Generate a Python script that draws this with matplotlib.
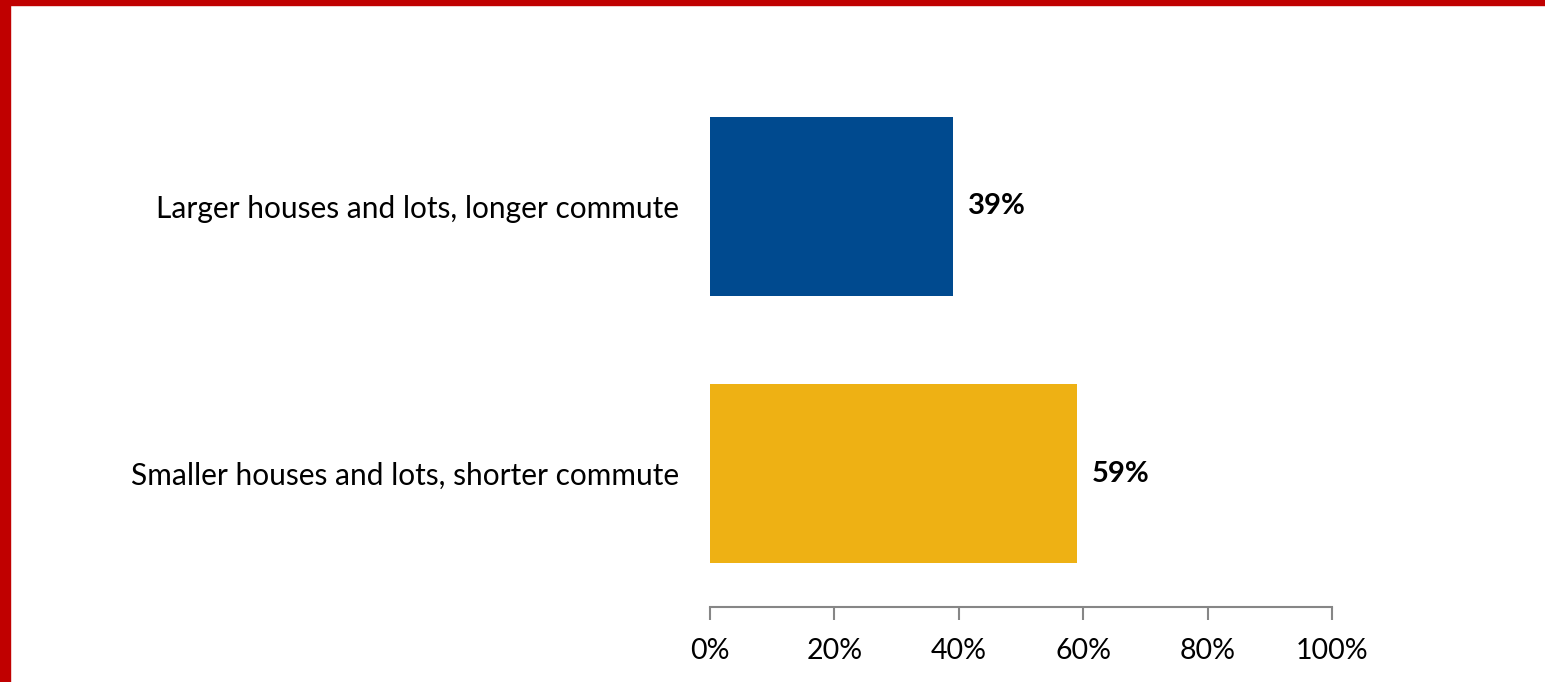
import matplotlib.pyplot as plt
from matplotlib.patches import Rectangle

categories = ["Larger houses and lots, longer commute",
              "Smaller houses and lots, shorter commute"]
values = [39, 59]
colors = ["#004A8F", "#EEB114"]
ticks = [0, 20, 40, 60, 80, 100]

plt.rcParams['font.family'] = ['Lato', 'DejaVu Sans']

fig = plt.figure(figsize=(15.45, 6.82), dpi=100)
W, H = 1545, 682

# red frame on top and left
fig.patches.append(Rectangle((0, 1 - 5 / H), 1, 5 / H, transform=fig.transFigure,
                             color="#C00000", zorder=0))
fig.patches.append(Rectangle((0, 0), 10 / W, 1, transform=fig.transFigure,
                             color="#C00000", zorder=0))

ax = fig.add_axes([710 / W, 1 - 607 / H, 622 / W, 534 / H])
ypos = [1, 0]
ax.barh(ypos, values, height=0.67, color=colors)
for y, v in zip(ypos, values):
    ax.text(v + 2.4, y, f"{v}%", va="center", ha="left", fontsize=21,
            fontweight="bold", color="black")

ax.set_xlim(0, 100)
ax.set_ylim(-0.5, 1.5)
ax.set_xticks(ticks)
ax.set_xticklabels([f"{t}%" for t in ticks], fontsize=20.5)
ax.set_yticks(ypos)
ax.set_yticklabels(categories, fontsize=21.5)
ax.tick_params(axis="y", length=0, pad=22)
ax.tick_params(axis="x", length=9, color="#868686", width=1.5, pad=13)
for s in ["top", "right", "left"]:
    ax.spines[s].set_visible(False)
ax.spines["bottom"].set_color("#868686")
ax.spines["bottom"].set_linewidth(1.5)

fig.savefig("out.png", dpi=100)
